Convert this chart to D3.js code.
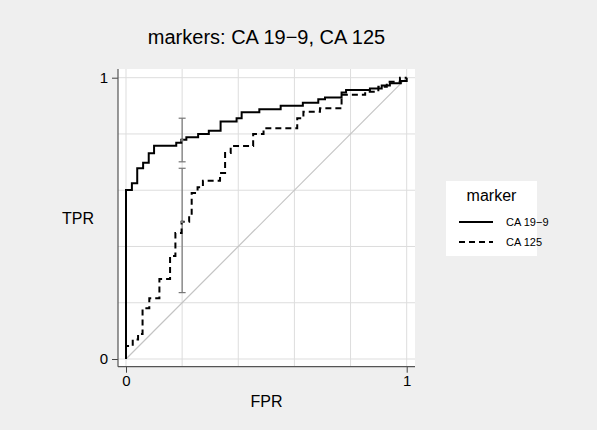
<!DOCTYPE html>
<html>
<head>
<meta charset="utf-8">
<script src="https://cdn.jsdelivr.net/npm/d3@7"></script>
<style>
  html, body { margin: 0; padding: 0; background: #efefef; }
  svg { display: block; font-family: "Liberation Sans", Arial, sans-serif; }
</style>
</head>
<body>
<svg id="chart" width="597" height="430"></svg>
<script>
// ---- data ----
const seriesNames = ["CA 19−9", "CA 125"];
const fprCA199 = [0, 0, 0.021, 0.040, 0.061, 0.081, 0.100, 0.179, 0.197, 0.215, 0.257, 0.295, 0.337, 0.394, 0.412, 0.475, 0.551, 0.630, 0.685, 0.709, 0.768, 0.784, 0.869, 0.911, 0.940, 0.979, 1];
const tprCA199 = [0, 0.601, 0.625, 0.678, 0.698, 0.731, 0.758, 0.769, 0.779, 0.788, 0.800, 0.811, 0.844, 0.856, 0.877, 0.888, 0.900, 0.911, 0.923, 0.930, 0.947, 0.956, 0.962, 0.972, 0.980, 0.988, 1];
const fprCA125 = [0, 0, 0.024, 0.043, 0.059, 0.083, 0.119, 0.157, 0.176, 0.198, 0.225, 0.234, 0.255, 0.274, 0.335, 0.353, 0.373, 0.453, 0.490, 0.610, 0.632, 0.691, 0.768, 0.852, 0.899, 0.929, 0.976, 1];
const tprCA125 = [0, 0.046, 0.069, 0.089, 0.180, 0.216, 0.284, 0.366, 0.448, 0.488, 0.512, 0.590, 0.611, 0.634, 0.661, 0.732, 0.757, 0.800, 0.820, 0.856, 0.879, 0.891, 0.939, 0.950, 0.968, 0.986, 1.0, 1];
// pointwise confidence intervals at FPR = 0.2
const ciFpr = [0.2, 0.2];
const ciLow = [0.701, 0.236];
const ciHigh = [0.856, 0.678];
const ciMid = [0.778, 0.488];
const gridTicks = [0, 0.2, 0.4, 0.6, 0.8, 1];
const axisTicks = [0, 1];
const titleText = "markers: CA 19−9, CA 125";

// ---- layout ----
const svg = d3.select("#chart");
const W = 597, H = 430;
const region = { left: 118, right: 415, top: 69, bottom: 366.7 };
const x = d3.scaleLinear().domain([0, 1]).range([126, 406.7]);
const y = d3.scaleLinear().domain([0, 1]).range([359, 77.7]);

svg.append("rect").attr("width", W).attr("height", H).attr("fill", "#efefef");
svg.append("rect")
  .attr("x", region.left).attr("y", region.top)
  .attr("width", region.right - region.left).attr("height", region.bottom - region.top)
  .attr("fill", "#ffffff");

// grid
const grid = svg.append("g").attr("stroke", "#dddddd").attr("stroke-width", 1);
grid.selectAll("line.h").data(gridTicks).join("line")
  .attr("x1", region.left).attr("x2", region.right)
  .attr("y1", d => y(d)).attr("y2", d => y(d));
grid.selectAll("line.v").data(gridTicks).join("line")
  .attr("class", "v")
  .attr("y1", region.top).attr("y2", region.bottom)
  .attr("x1", d => x(d)).attr("x2", d => x(d));

// diagonal reference
svg.append("line")
  .attr("x1", x(0)).attr("y1", y(0)).attr("x2", x(1)).attr("y2", y(1))
  .attr("stroke", "#c4c4c4").attr("stroke-width", 1.2);

// axes
const yAxis = d3.axisLeft(y).tickValues(axisTicks).tickFormat(d3.format("d")).tickSize(6).tickPadding(4);
const xAxis = d3.axisBottom(x).tickValues(axisTicks).tickFormat(d3.format("d")).tickSize(6).tickPadding(3);
const gy = svg.append("g").attr("transform", `translate(${region.left},0)`).call(yAxis);
const gx = svg.append("g").attr("transform", `translate(0,${region.bottom})`).call(xAxis);
[gx, gy].forEach(g => {
  g.select(".domain").remove();
  g.selectAll(".tick line").attr("stroke", "#444");
  g.selectAll(".tick text").attr("fill", "#000").style("font-size", "15px").style("font-family", "Liberation Sans, Arial, sans-serif");
});
svg.append("line").attr("x1", region.left).attr("x2", region.left)
  .attr("y1", region.top).attr("y2", region.bottom).attr("stroke", "#555").attr("stroke-width", 1.2);
svg.append("line").attr("x1", region.left).attr("x2", region.right)
  .attr("y1", region.bottom).attr("y2", region.bottom).attr("stroke", "#555").attr("stroke-width", 1.2);

// error bars
const ci = svg.append("g").attr("stroke", "#777").attr("stroke-width", 1.2);
ciFpr.forEach((f, i) => {
  ci.append("line").attr("x1", x(f)).attr("x2", x(f)).attr("y1", y(ciLow[i])).attr("y2", y(ciHigh[i]));
  ci.append("line").attr("x1", x(f) - 3.5).attr("x2", x(f) + 3.5).attr("y1", y(ciLow[i])).attr("y2", y(ciLow[i]));
  ci.append("line").attr("x1", x(f) - 3.5).attr("x2", x(f) + 3.5).attr("y1", y(ciHigh[i])).attr("y2", y(ciHigh[i]));
});

// ROC curves
const line = d3.line().x(d => x(d[0])).y(d => y(d[1])).curve(d3.curveStepAfter);
const ptsA = fprCA199.map((f, i) => [f, tprCA199[i]]);
const ptsB = fprCA125.map((f, i) => [f, tprCA125[i]]);
svg.append("path").attr("d", line(ptsA)).attr("fill", "none").attr("stroke", "#000").attr("stroke-width", 2);
svg.append("path").attr("d", line(ptsB)).attr("fill", "none").attr("stroke", "#000").attr("stroke-width", 2).attr("stroke-dasharray", "6,4");

// CI midpoint markers
ciFpr.forEach((f, i) => {
  svg.append("circle").attr("cx", x(f)).attr("cy", y(ciMid[i])).attr("r", 1.5).attr("fill", "#777");
});

// titles
svg.append("text").attr("x", (region.left + region.right) / 2).attr("y", 44)
  .attr("text-anchor", "middle").style("font-size", "20px").text(titleText);
svg.append("text").attr("x", 78).attr("y", 224)
  .attr("text-anchor", "middle").style("font-size", "16px").text("TPR");
svg.append("text").attr("x", (region.left + region.right) / 2).attr("y", 407)
  .attr("text-anchor", "middle").style("font-size", "16px").text("FPR");

// legend
const lg = svg.append("g");
lg.append("rect").attr("x", 446).attr("y", 181).attr("width", 91).attr("height", 75).attr("fill", "#fff");
lg.append("text").attr("x", 491.5).attr("y", 201).attr("text-anchor", "middle").style("font-size", "16px").text("marker");
const dashes = [null, "6,4"];
seriesNames.forEach((name, i) => {
  const yy = 222 + i * 20;
  lg.append("line").attr("x1", 459).attr("x2", 493).attr("y1", yy).attr("y2", yy)
    .attr("stroke", "#000").attr("stroke-width", 2).attr("stroke-dasharray", dashes[i]);
  lg.append("text").attr("x", 506).attr("y", yy + 4).style("font-size", "11px").text(name);
});
</script>
</body>
</html>
